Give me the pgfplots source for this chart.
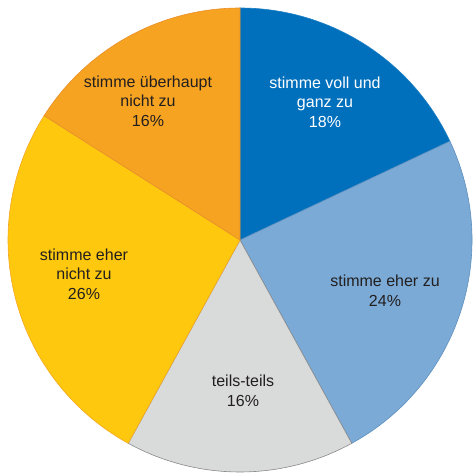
\documentclass[border=0pt]{standalone}
\usepackage{fontspec}
\setmainfont{Liberation Sans}
\usepackage{pgfplots}
\usepackage{pgfplotstable}
\pgfplotsset{compat=1.18}

% slice fills, borders, text
\definecolor{sl0}{HTML}{0070BC}\definecolor{sd0}{HTML}{1E7FC4}\definecolor{st0}{HTML}{FFFFFF}
\definecolor{sl1}{HTML}{7AAAD5}\definecolor{sd1}{HTML}{5F8FBE}\definecolor{st1}{HTML}{231F20}
\definecolor{sl2}{HTML}{D9DADA}\definecolor{sd2}{HTML}{8A8A8A}\definecolor{st2}{HTML}{231F20}
\definecolor{sl3}{HTML}{FEC80E}\definecolor{sd3}{HTML}{F5A623}\definecolor{st3}{HTML}{231F20}
\definecolor{sl4}{HTML}{F5A320}\definecolor{sd4}{HTML}{E98E2A}\definecolor{st4}{HTML}{231F20}

\pgfplotstableread{
value lx ly
18 325 371
24 385 182
16 243 82
26 84 199
16 148 372
}\piedata

\newcommand\slicelabel[1]{\ifcase#1 stimme voll und\\ganz zu\\\or
  stimme eher zu\\\or
  teils-teils\\\or
  stimme eher\\nicht zu\\\or
  stimme überhaupt\\nicht zu\\\fi}

\tikzset{pielabel/.style={align=center, font=\fontsize{16}{19.5}\selectfont}}

\begin{document}
\begin{tikzpicture}
\begin{axis}[x=1pt, y=1pt, xmin=0, xmax=472, ymin=0, ymax=473,
    hide axis, clip=false]
  \coordinate (ll) at (axis cs:0,0);
  \coordinate (ur) at (axis cs:472,473);
  \pgfmathsetmacro{\angA}{90}
  \pgfplotsforeachungrouped \i in {0,...,4}{%
    \pgfplotstablegetelem{\i}{value}\of\piedata \let\val\pgfplotsretval
    \pgfplotstablegetelem{\i}{lx}\of\piedata \let\lx\pgfplotsretval
    \pgfplotstablegetelem{\i}{ly}\of\piedata \let\ly\pgfplotsretval
    \pgfmathsetmacro{\angB}{\angA-3.6*\val}
    \edef\doslice{%
      \noexpand\filldraw[fill=sl\i, draw=sd\i, line width=0.6pt]
        (axis cs:240,233) -- ++(\angA:232pt)
        arc[start angle=\angA, end angle=\angB, radius=232pt] -- cycle;
      \noexpand\node[pielabel, text=st\i] at (axis cs:\lx,\ly)
        {\noexpand\slicelabel{\i}\val\noexpand\%};}%
    \doslice
    \let\angA\angB
  }
\end{axis}
\pgfresetboundingbox
\path (ll) rectangle (ur);
\end{tikzpicture}
\end{document}
